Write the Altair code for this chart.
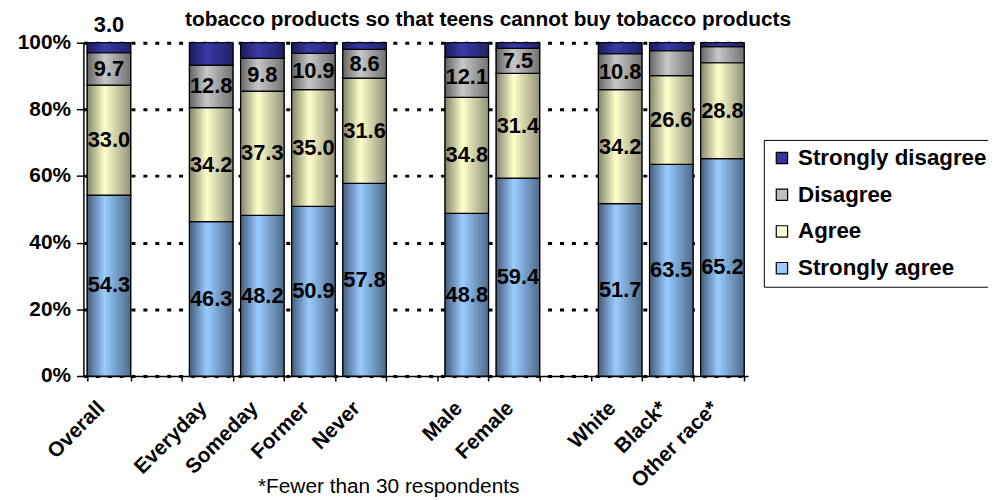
import altair as alt
import pandas as pd

# ---------------- data ----------------
slots = ["Overall", " ", "Everyday", "Someday", "Former", "Never", "  ",
         "Male", "Female", "   ", "White", "Black*", "Other race*"]
groups = ["Overall", "Everyday", "Someday", "Former", "Never",
          "Male", "Female", "White", "Black*", "Other race*"]
series = ["Strongly agree", "Agree", "Disagree", "Strongly disagree"]

strongly_agree = [54.3, 46.3, 48.2, 50.9, 57.8, 48.8, 59.4, 51.7, 63.5, 65.2]
agree = [33.0, 34.2, 37.3, 35.0, 31.6, 34.8, 31.4, 34.2, 26.6, 28.8]
disagree = [9.7, 12.8, 9.8, 10.9, 8.6, 12.1, 7.5, 10.8, 7.5, 4.8]
strongly_disagree = [3.0, 6.7, 4.7, 3.2, 2.0, 4.3, 1.7, 3.3, 2.4, 1.2]

# which values carry a label inside the segment (1) / above the bar (2)
lab_sa = [1, 1, 1, 1, 1, 1, 1, 1, 1, 1]
lab_ag = [1, 1, 1, 1, 1, 1, 1, 1, 1, 1]
lab_di = [1, 1, 1, 1, 1, 1, 1, 1, 0, 0]
lab_sd = [2, 0, 0, 0, 0, 0, 0, 0, 0, 0]

title_text = "tobacco products so that teens cannot buy tobacco products"
footnote = "*Fewer than 30 respondents"

flat_colors = ["#333399", "#C0C0C0", "#FFFFCC", "#99CCFF"]
legend_order = ["Strongly disagree", "Disagree", "Agree", "Strongly agree"]
grad = {
    "Strongly agree": ("#445C7C", "#99CCFF", "#4E6A8C"),
    "Agree": ("#84846A", "#FFFFCC", "#92927A"),
    "Disagree": ("#646464", "#C8C8C8", "#727272"),
    "Strongly disagree": ("#1A1A5C", "#3A3AA6", "#202066"),
}

rows = []
for s_i, (s, vals, labs) in enumerate(zip(series,
                                          [strongly_agree, agree, disagree, strongly_disagree],
                                          [lab_sa, lab_ag, lab_di, lab_sd])):
    for g, v, l in zip(groups, vals, labs):
        rows.append({"group": g, "series": s, "value": v, "order": s_i, "lab": l,
                     "txt": f"{v:.1f}"})
df = pd.DataFrame(rows)

FONT = "Liberation Sans"

x_enc = alt.X("group:N",
              scale=alt.Scale(domain=slots, paddingInner=0.15, paddingOuter=0.075),
              axis=alt.Axis(title=None, labelAngle=-45, labelAlign="right", labelBaseline="middle",
                            labelFontSize=21, labelFontWeight="bold", labelColor="black",
                            tickBand="extent", tickSize=5, tickColor="black", tickWidth=1.5,
                            domainColor="black", domainWidth=1.5, labelPadding=24,
                            labelOffset=-8, grid=False))
y_enc = alt.Y("y0:Q", scale=alt.Scale(domain=[0, 100], nice=False),
              axis=alt.Axis(title=None, values=[0, 20, 40, 60, 80, 100],
                            labelExpr="datum.value + '%'", labelFontSize=21,
                            labelFontWeight="bold", labelColor="black", labelPadding=6,
                            tickSize=7, tickColor="black", tickWidth=1.5,
                            domainColor="black", domainWidth=1.5,
                            grid=True, gridColor="black", gridDash=[4, 8], gridWidth=3))

base = alt.Chart(df).transform_stack(
    stack="value", groupby=["group"], as_=["y0", "y1"],
    sort=[alt.SortField("order", order="ascending")]
).transform_calculate(mid="(datum.y0 + datum.y1) / 2")

legend_bars = base.mark_bar(stroke="black", strokeWidth=1.2).encode(
    x=x_enc, y=y_enc, y2="y1:Q",
    color=alt.Color("series:N", scale=alt.Scale(domain=legend_order, range=flat_colors),
                    legend=alt.Legend(title=None, orient="none", legendX=686, legendY=98,
                                      labelFontSize=22.5, labelFontWeight="bold",
                                      labelColor="black", symbolType="square",
                                      symbolSize=130, symbolStrokeColor="black",
                                      symbolStrokeWidth=1.2, strokeColor="black",
                                      fillColor="white", padding=7, rowPadding=14,
                                      labelLimit=400, labelOffset=5)),
)

layers = [legend_bars]
for s in series:
    c0, c1, c2 = grad[s]
    layers.append(
        base.transform_filter(alt.datum.series == s).mark_bar(
            stroke="black", strokeWidth=1.2,
            color=alt.Gradient(gradient="linear", x1=0, x2=1, y1=0, y2=0,
                               stops=[alt.GradientStop(color=c0, offset=0),
                                      alt.GradientStop(color=c1, offset=0.4),
                                      alt.GradientStop(color=c2, offset=1)])
        ).encode(x=alt.X("group:N"), y=alt.Y("y0:Q"), y2="y1:Q")
    )

inside = base.transform_filter(alt.datum.lab == 1).mark_text(
    font=FONT, fontSize=22, fontWeight="bold", color="black", baseline="middle"
).encode(x=alt.X("group:N"), y=alt.Y("mid:Q"), text="txt:N")

above = base.transform_filter(alt.datum.lab == 2).mark_text(
    font=FONT, fontSize=22, fontWeight="bold", color="black", baseline="bottom", dy=-6
).encode(x=alt.X("group:N"), y=alt.Y("y1:Q"), text="txt:N")

foot = alt.Chart(pd.DataFrame({"t": [footnote]})).mark_text(
    font=FONT, fontSize=21, color="black", align="left", baseline="top"
).encode(x=alt.value(176), y=alt.value(437), text="t:N")

chart = alt.layer(*layers, inside, above, foot).properties(
    width=670, height=336,
    title=alt.TitleParams(text=title_text, fontSize=21, fontWeight="bold", color="black",
                          font=FONT, anchor="middle", dx=73, offset=-16),
    autosize=alt.AutoSizeParams(type="none"),
    padding={"left": 76, "top": 33, "right": 242, "bottom": 123},
).configure(font=FONT).configure_view(stroke=None)

chart.save("out.html", embed_options={"renderer": "svg", "actions": False})
